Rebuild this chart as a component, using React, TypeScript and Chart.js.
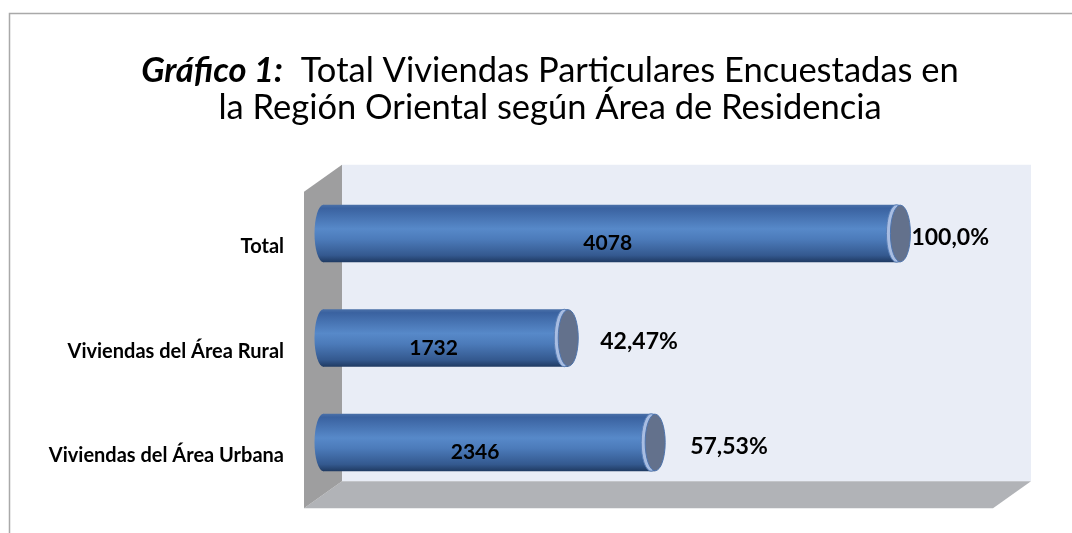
import React, { useEffect, useRef } from "react";
import { Chart, registerables } from "chart.js";

Chart.register(...registerables);

// ---- data ----
const categories = ["Total", "Viviendas del Área Rural", "Viviendas del Área Urbana"];
const viviendas = [4078, 1732, 2346];
const percentLabels = ["100,0%", "42,47%", "57,53%"];
const xAxisMax = 4866;
const titleBold = "Gráfico 1:";
const titleLine1 = "  Total Viviendas Particulares Encuestadas en";
const titleLine2 = "la Región Oriental según Área de Residencia";

// ---- style ----
const FONT = "Lato, 'Noto Sans', sans-serif";
const percentGap = [11, 32, 35];
const valueShift = [-4, -12, -14];

function barGradient(ctx: CanvasRenderingContext2D, top: number, bottom: number) {
  const g = ctx.createLinearGradient(0, top, 0, bottom);
  g.addColorStop(0, "#4A70A8");
  g.addColorStop(0.06, "#3A62A0");
  g.addColorStop(0.42, "#5789C9");
  g.addColorStop(0.6, "#4C7BBA");
  g.addColorStop(0.88, "#34598F");
  g.addColorStop(1, "#1F3A62");
  return g;
}

export default function App() {
  const ref = useRef<HTMLCanvasElement>(null);

  useEffect(() => {
    document.body.style.margin = "0";
    const canvas = ref.current!;
    const depthX = 19;
    const depthY = 13.5;

    const framePlugin = {
      id: "frame3d",
      beforeDraw(chart: any) {
        const { ctx, chartArea: a, width, height } = chart;
        ctx.save();
        ctx.fillStyle = "#ffffff";
        ctx.fillRect(0, 0, width, height);

        // outer border
        ctx.strokeStyle = "#A9A9A9";
        ctx.lineWidth = 1.5;
        ctx.beginPath();
        ctx.moveTo(9.5, height);
        ctx.lineTo(9.5, 13.5);
        ctx.lineTo(width, 13.5);
        ctx.stroke();

        const bl = a.left + depthX, br = a.right + depthX;
        const bt = a.top - depthY - 3, bb = a.bottom - depthY;
        const fl = a.left - depthX, fr = a.right - depthX;
        const ft = bt + 2 * depthY, fb = a.bottom + depthY;

        // back wall
        ctx.fillStyle = "#E9EDF6";
        ctx.fillRect(bl, bt, br - bl, bb - bt);
        // floor
        ctx.fillStyle = "#B1B3B7";
        ctx.beginPath();
        ctx.moveTo(bl, bb);
        ctx.lineTo(br, bb);
        ctx.lineTo(fr, fb);
        ctx.lineTo(fl, fb);
        ctx.closePath();
        ctx.fill();
        // left wall
        ctx.fillStyle = "#9E9E9F";
        ctx.beginPath();
        ctx.moveTo(bl, bt);
        ctx.lineTo(bl, bb);
        ctx.lineTo(fl, fb);
        ctx.lineTo(fl, ft);
        ctx.closePath();
        ctx.fill();

        // title
        const ts = 34.5;
        ctx.fillStyle = "#000000";
        ctx.textAlign = "left";
        ctx.textBaseline = "alphabetic";
        ctx.font = `italic bold ${ts}px ${FONT}`;
        const wa = ctx.measureText(titleBold).width;
        ctx.font = `${ts}px ${FONT}`;
        const wb = ctx.measureText(titleLine1).width;
        const cx = 550;
        const x0 = cx - (wa + wb) / 2;
        ctx.font = `italic bold ${ts}px ${FONT}`;
        ctx.fillText(titleBold, x0, 82);
        ctx.font = `${ts}px ${FONT}`;
        ctx.fillText(titleLine1, x0 + wa, 82);
        ctx.textAlign = "center";
        ctx.fillText(titleLine2, cx, 119);
        ctx.restore();
      },
      afterDatasetsDraw(chart: any) {
        const { ctx } = chart;
        const meta = chart.getDatasetMeta(0);
        ctx.save();
        meta.data.forEach((el: any, i: number) => {
          const { x, y, base, height } = el.getProps(["x", "y", "base", "height"], true);
          const top = y - height / 2;
          const bot = y + height / 2;
          const ry = height / 2;
          // left rounded end
          ctx.fillStyle = barGradient(ctx, top, bot);
          ctx.beginPath();
          ctx.ellipse(base + 0.5, y, 9, ry, 0, Math.PI / 2, Math.PI * 1.5);
          ctx.closePath();
          ctx.fill();
          // right cap ring
          ctx.fillStyle = "#A8BDE2";
          ctx.strokeStyle = "#5A80B8";
          ctx.lineWidth = 1;
          ctx.beginPath();
          ctx.ellipse(x - 4, y, 10, ry, 0, 0, Math.PI * 2);
          ctx.fill();
          ctx.stroke();
          // cap face
          ctx.fillStyle = "#63718C";
          ctx.strokeStyle = "#4E74AD";
          ctx.beginPath();
          ctx.ellipse(x, y, 10, ry - 0.5, 0, 0, Math.PI * 2);
          ctx.fill();
          ctx.stroke();

          // value label inside
          ctx.fillStyle = "#000000";
          ctx.font = `bold 21px ${FONT}`;
          ctx.textAlign = "center";
          ctx.textBaseline = "middle";
          ctx.fillText(String(viviendas[i]), (base + x) / 2 + valueShift[i], y + 10);
          // percent label
          ctx.font = `bold 23px ${FONT}`;
          ctx.textAlign = "left";
          ctx.fillText(percentLabels[i], x + percentGap[i], y + 4);
        });
        ctx.restore();
      },
    };

    const chart = new Chart(canvas, {
      type: "bar",
      data: {
        labels: categories,
        datasets: [
          {
            data: viviendas,
            backgroundColor: (c: any) => {
              const ys = c.chart.scales?.y;
              if (!ys || ys.bottom === undefined) return "#4F81BD";
              const yc = ys.getPixelForValue(c.dataIndex);
              const band = (ys.bottom - ys.top) / categories.length;
              const h = band * 0.55;
              return barGradient(c.chart.ctx, yc - h / 2, yc + h / 2);
            },
            borderWidth: 0,
            categoryPercentage: 1,
            barPercentage: 0.55,
          },
        ],
      },
      options: {
        indexAxis: "y",
        responsive: false,
        maintainAspectRatio: false,
        animation: false,
        devicePixelRatio: 1,
        layout: { padding: { top: 181.25, bottom: 38.25, right: 60, left: 0 } },
        plugins: {
          legend: { display: false },
          title: { display: false },
          tooltip: { enabled: false },
        },
        scales: {
          x: { display: false, min: 0, max: xAxisMax },
          y: {
            afterFit: (s: any) => {
              s.width = 323;
              s.paddingTop = 0;
              s.paddingBottom = 0;
            },
            grid: { display: false },
            border: { display: false },
            ticks: {
              color: "#000000",
              font: { family: FONT, size: 20, weight: "bold" },
              padding: 31,
              labelOffset: 13.5,
            },
          },
        },
      },
      plugins: [framePlugin],
    });
    return () => chart.destroy();
  }, []);

  return (
    <div style={{ width: 1072, height: 533 }}>
      <canvas ref={ref} width={1072} height={533} style={{ display: "block" }} />
    </div>
  );
}
